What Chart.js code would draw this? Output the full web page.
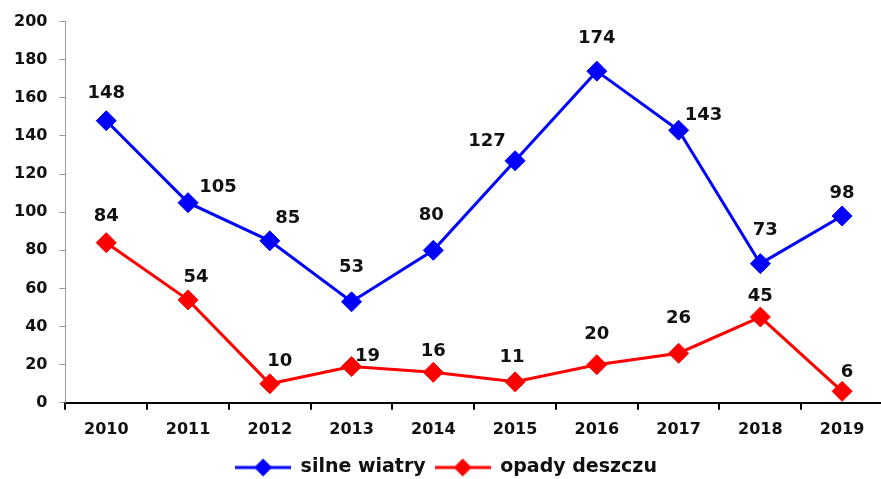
<!DOCTYPE html>
<html>
<head>
<meta charset="utf-8">
<script src="https://cdn.jsdelivr.net/npm/chart.js@4/dist/chart.umd.min.js"></script>
<style>
  html, body { margin: 0; padding: 0; background: #fff; overflow: hidden; }
  #wrap { width: 894px; height: 479px; }
</style>
</head>
<body>
<div id="wrap"><canvas id="c"></canvas></div>
<script>
// data
var years = ['2010', '2011', '2012', '2013', '2014', '2015', '2016', '2017', '2018', '2019'];
var silneWiatry = [148, 105, 85, 53, 80, 127, 174, 143, 73, 98];
var opadyDeszczu = [84, 54, 10, 19, 16, 11, 20, 26, 45, 6];
var yTicks = [0, 20, 40, 60, 80, 100, 120, 140, 160, 180, 200];

// label nudges [dx, px above point] so labels sit like in the original
var nudgeBlue = [[0, 27], [30, 15], [18, 22], [0, 34], [-2, 35], [-28, 19], [0, 33], [25, 15], [5, 33], [0, 23]];
var nudgeRed = [[0, 26], [8, 23], [10, 22], [16, 10], [0, 21], [-3, 25], [0, 30], [0, 35], [0, 21], [5, 19]];

var FONT = '"DejaVu Sans", Verdana, sans-serif';

function legendIcon(color){
	var cv = document.createElement('canvas');
	cv.width = 56; cv.height = 20;
	var g = cv.getContext('2d');
	g.strokeStyle = color; g.lineWidth = 3;
	g.beginPath(); g.moveTo(0, 10); g.lineTo(56, 10); g.stroke();
	g.fillStyle = color;
	g.beginPath(); g.moveTo(28, 1); g.lineTo(37, 10); g.lineTo(28, 19); g.lineTo(19, 10); g.closePath(); g.fill();
	return cv;
}

var valueLabels = {
	id: 'valueLabels',
	afterDatasetsDraw(chart){
		var ctx = chart.ctx;
		ctx.save();
		ctx.font = 'bold 18px ' + FONT;
		ctx.fillStyle = '#111';
		ctx.textAlign = 'center';
		ctx.textBaseline = 'middle';
		chart.data.datasets.forEach(function(ds, i){
			var nudges = i == 0 ? nudgeBlue : nudgeRed;
			chart.getDatasetMeta(i).data.forEach(function(pt, j){
				ctx.fillText(ds.data[j], pt.x + nudges[j][0], pt.y - nudges[j][1]);
			});
		});
		ctx.restore();
	}
};

var icons = [legendIcon('#0000ff'), legendIcon('#ff0000')];

new Chart(document.getElementById('c'), {
	type: 'line',
	data: {
		labels: years,
		datasets: [{
			label: 'silne wiatry',
			data: silneWiatry,
			borderColor: '#0000ff',
			backgroundColor: '#0000ff',
			borderWidth: 3,
			pointStyle: 'rectRot',
			pointRadius: 10,
			pointBorderWidth: 1,
			tension: 0
		}, {
			label: 'opady deszczu',
			data: opadyDeszczu,
			borderColor: '#ff0000',
			backgroundColor: '#ff0000',
			borderWidth: 3,
			pointStyle: 'rectRot',
			pointRadius: 10,
			pointBorderWidth: 1,
			tension: 0
		}]
	},
	options: {
		responsive: true,
		maintainAspectRatio: false,
		animation: false,
		layout: { padding: { left: 2, right: 4, top: 14, bottom: -8 } },
		plugins: {
			tooltip: { enabled: false },
			legend: {
				position: 'bottom',
				labels: {
					usePointStyle: true,
					pointStyleWidth: 56,
					color: '#111',
					padding: 9,
					font: { family: FONT, size: 19, weight: 'bold' },
					generateLabels(chart){
						return chart.data.datasets.map(function(ds, i){
							return { text: ds.label, pointStyle: icons[i], fillStyle: ds.borderColor, strokeStyle: ds.borderColor, lineWidth: 0, datasetIndex: i, fontColor: '#111' };
						});
					}
				}
			}
		},
		scales: {
			x: {
				offset: true,
				grid: { offset: true, drawOnChartArea: false, drawTicks: true, tickLength: 7, color: '#000', lineWidth: 2 },
				border: { color: '#000', width: 2 },
				ticks: { color: '#111', padding: 10, font: { family: FONT, size: 16, weight: 'bold' } }
			},
			y: {
				min: 0, max: 200,
				afterBuildTicks(axis){ axis.ticks = yTicks.map(function(v){ return { value: v }; }); },
				grid: { drawOnChartArea: false, drawTicks: true, tickLength: 6, color: '#999' },
				border: { color: '#999', width: 1 },
				ticks: { color: '#111', padding: 12, font: { family: FONT, size: 16, weight: 'bold' } }
			}
		}
	},
	plugins: [valueLabels]
});
</script>
</body>
</html>
